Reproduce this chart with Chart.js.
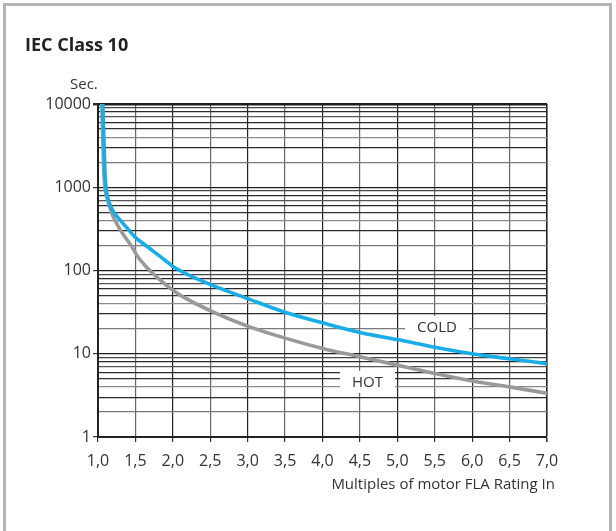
<!DOCTYPE html>
<html>
<head>
<meta charset="utf-8">
<script src="https://cdn.jsdelivr.net/npm/chart.js@4.4.0/dist/chart.umd.min.js"></script>
<style>
    body { margin: 0; background: #fff; }
    #frame { position: absolute; left: 3px; top: 3px; width: 603px; height: 540px; border: 3px solid #b4b4b4; border-bottom: none; }
    #title { position: absolute; left: 25px; top: 32px; font: bold 18px 'Open Sans', sans-serif; color: #222; }
    #unit { position: absolute; left: 70px; top: 73px; font: 15px 'Open Sans', sans-serif; color: #333; }
    #xtitle { position: absolute; right: 61px; top: 473px; font: 15px 'Open Sans', sans-serif; color: #333; }
    canvas { position: absolute; left: 0; top: 0; }
</style>
</head>
<body>
<div id="frame"></div>
<canvas id="chartIEC" width="616" height="531"></canvas>
<div id="title">IEC Class 10</div>
<div id="unit">Sec.</div>
<div id="xtitle">Multiples of motor FLA Rating In</div>
<script>
// trip curves
const coldX = [1.065, 1.08, 1.095, 1.11, 1.14, 1.2, 1.3, 1.42, 1.5, 1.67, 1.9, 2.0, 2.5, 3.0, 3.5, 4.0, 4.5, 5.0, 5.5, 6.0, 6.5, 7.0];
const coldY = [10000, 3500, 1400, 950, 700, 520, 400, 300, 250, 190, 132, 112, 68, 46, 31.5, 23.5, 18, 14.8, 12, 10, 8.7, 7.6];
const hotX = [1.05, 1.065, 1.08, 1.095, 1.13, 1.18, 1.3, 1.45, 1.5, 1.56, 2.0, 2.5, 3.0, 3.5, 4.0, 4.5, 5.0, 5.5, 6.0, 6.5, 7.0];
const hotY = [10000, 3500, 1400, 950, 700, 500, 305, 195, 163, 135, 58, 33, 21.5, 15.4, 11.6, 9.2, 7.3, 5.8, 4.7, 4.0, 3.35];

const xTicks = [1.0, 1.5, 2.0, 2.5, 3.0, 3.5, 4.0, 4.5, 5.0, 5.5, 6.0, 6.5, 7.0];
const xTickLabels = ['1,0', '1,5', '2,0', '2,5', '3,0', '3,5', '4,0', '4,5', '5,0', '5,5', '6,0', '6,5', '7,0'];
const yTicks = [1, 2, 3, 4, 5, 6, 7, 8, 9,
    10, 20, 30, 40, 50, 60, 70, 80, 90,
    100, 200, 300, 400, 500, 600, 700, 800, 900,
    1000, 2000, 3000, 4000, 5000, 6000, 7000, 8000, 9000, 10000];
const yTickLabels = [1, 10, 100, 1000, 10000];

const labelText = ['COLD', 'HOT'];
const labelX = [5.53, 4.6];
const labelY = [21, 4.6];

function toPoints(xs, ys) {
    return xs.map((x, i) => ({ x: x, y: ys[i] }));
}

// grid shade per significand (the scan mixes black and grey lines)
const shade = { 1: '#1e1e1e', 2: '#7a7a7a', 3: '#2a2a2a', 4: '#8a8a8a', 5: '#333', 6: '#2a2a2a', 7: '#555', 8: '#2a2a2a', 9: '#444' };

const curveLabels = {
    id: 'curveLabels',
    beforeDatasetsDraw(chart) {
        const { ctx, scales } = chart;
        ctx.save();
        ctx.font = '15px "Open Sans", sans-serif';
        ctx.textAlign = 'center';
        ctx.textBaseline = 'middle';
        labelText.forEach((t, i) => {
            const px = scales.x.getPixelForValue(labelX[i]);
            const py = scales.y.getPixelForValue(labelY[i]);
            const w = ctx.measureText(t).width + 24;
            ctx.fillStyle = '#fff';
            ctx.fillRect(px - w / 2, py - 11, w, 22);
            ctx.fillStyle = '#333';
            ctx.fillText(t, px, py + 1);
        });
        ctx.restore();
    },
};

const ctx = document.getElementById('chartIEC').getContext('2d');
const myChart = new Chart(ctx, {
    type: 'line',
    data: {
        datasets: [
            {
                label: 'COLD',
                data: toPoints(coldX, coldY),
                borderColor: '#19ade6',
                borderWidth: 3.6,
                pointRadius: 0,
                cubicInterpolationMode: 'monotone',
                fill: false,
            },
            {
                label: 'HOT',
                data: toPoints(hotX, hotY),
                borderColor: '#999999',
                borderWidth: 3.6,
                pointRadius: 0,
                cubicInterpolationMode: 'monotone',
                fill: false,
            },
        ],
    },
    options: {
        responsive: false,
        animation: false,
        devicePixelRatio: 1,
        layout: { padding: { top: 104, right: 69, left: 0, bottom: 0 } },
        plugins: { legend: { display: false }, tooltip: { enabled: false } },
        scales: {
            x: {
                type: 'linear',
                min: 1,
                max: 7,
                afterBuildTicks: (scale) => {
                    scale.ticks = xTicks.map((v) => ({ value: v }));
                },
                afterFit: (scale) => {
                    scale.height = 94;
                },
                ticks: {
                    autoSkip: false,
                    maxRotation: 0,
                    padding: 10,
                    color: '#333',
                    font: { family: 'Open Sans', size: 16 },
                    callback: (v) => {
                        const i = xTicks.indexOf(v);
                        return i >= 0 ? xTickLabels[i] : '';
                    },
                },
                grid: {
                    color: (c) => (c.index % 2 ? '#666' : '#222'),
                    lineWidth: (c) => (c.index === xTicks.length - 1 ? 1.6 : 1.2),
                    tickLength: 5,
                    tickColor: '#333',
                },
                border: { color: '#222', width: 2 },
            },
            y: {
                type: 'logarithmic',
                min: 1,
                max: 10000,
                afterBuildTicks: (scale) => {
                    scale.ticks = yTicks.map((v) => ({ value: v }));
                },
                afterFit: (scale) => {
                    scale.width = 98;
                },
                ticks: {
                    autoSkip: false,
                    padding: 2,
                    color: '#333',
                    font: { family: 'Open Sans', size: 16 },
                    callback: (v) => (yTickLabels.includes(v) ? String(v) : ''),
                },
                grid: {
                    color: (c) => {
                        const v = c.tick ? c.tick.value : 1;
                        const sig = Math.round(v / Math.pow(10, Math.floor(Math.log10(v) + 1e-9)));
                        return shade[sig] || '#222';
                    },
                    lineWidth: (c) => (c.tick && c.tick.value === 10000 ? 2.5 : 1.2),
                    tickLength: 5,
                    tickColor: (c) => (c.tick && yTickLabels.includes(c.tick.value) ? '#333' : 'rgba(0,0,0,0)'),
                },
                border: { color: '#222', width: 2 },
            },
        },
    },
    plugins: [curveLabels],
});
</script>
</body>
</html>
